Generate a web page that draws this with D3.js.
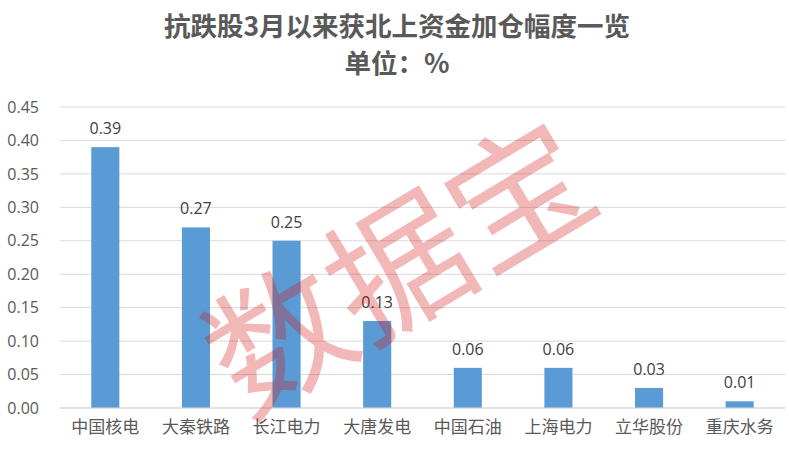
<!DOCTYPE html>
<html><head><meta charset="utf-8">
<script src="https://cdn.jsdelivr.net/npm/d3@7/dist/d3.min.js"></script>
<style>body{margin:0;background:#fff}svg{display:block}</style>
</head><body><svg id="c" width="789" height="450"></svg>
<script>
const categories = ["中国核电","大秦铁路","长江电力","大唐发电","中国石油","上海电力","立华股份","重庆水务"];
const values = [0.39,0.27,0.25,0.13,0.06,0.06,0.03,0.01];
const yTicks = [0,0.05,0.10,0.15,0.20,0.25,0.30,0.35,0.40,0.45];
const titleLines = ["抗跌股3月以来获北上资金加仓幅度一览","单位：%"];

const svg = d3.select("#c");
const font = "'Noto Sans CJK SC','Noto Sans',sans-serif";
const numFont = "'Open Sans','Noto Sans',sans-serif";
const m = {l:60, r:4, t:107, b:42};
const W = 789, H = 450;
const x = d3.scaleBand().domain(categories).range([m.l, W - m.r]).paddingInner(0.69).paddingOuter(0.345);
const y = d3.scaleLinear().domain([0,0.45]).range([H - m.b, m.t]);

// gridlines
svg.append("g").selectAll("line").data(yTicks).join("line")
  .attr("x1", m.l).attr("x2", W - m.r)
  .attr("y1", d=>y(d)).attr("y2", d=>y(d))
  .attr("stroke", "#d9d9d9").attr("stroke-width", 1);

// y axis labels
const yAxis = d3.axisLeft(y).tickValues(yTicks).tickFormat(d3.format(".2f")).tickSize(0).tickPadding(0);
const ya = svg.append("g").attr("transform", `translate(${39},0)`).call(yAxis);
ya.select(".domain").remove();
ya.selectAll("text").attr("fill","#595959").style("font-family",numFont).style("font-size","16px");

// bars
svg.append("g").selectAll("rect").data(values).join("rect")
  .attr("x", (d,i)=>x(categories[i])).attr("width", x.bandwidth())
  .attr("y", d=>y(d)).attr("height", d=>y(0)-y(d))
  .attr("fill", "#5b9bd5");

// data labels
svg.append("g").selectAll("text").data(values).join("text")
  .attr("x", (d,i)=>x(categories[i]) + x.bandwidth()/2)
  .attr("y", d=>y(d) - 13)
  .attr("text-anchor","middle").attr("fill","#404040")
  .style("font-family",numFont).style("font-size","16px")
  .text(d=>d3.format(".2f")(d));

// x axis
svg.append("line").attr("x1", m.l).attr("x2", W - m.r).attr("y1", y(0)).attr("y2", y(0)).attr("stroke","#d9d9d9");
const xAxis = d3.axisBottom(x).tickSize(0).tickPadding(0);
const xa = svg.append("g").attr("transform", `translate(0,${y(0)+13})`).call(xAxis);
xa.select(".domain").remove();
xa.selectAll("text").attr("fill","#595959").style("font-family",font).style("font-size","17px");

// title
svg.append("g").selectAll("text").data(titleLines).join("text")
  .attr("x", 397).attr("y", (d,i)=> i===0 ? 36 : 73)
  .attr("text-anchor","middle").attr("fill","#595959")
  .style("font-family",font).style("font-size","26.5px").style("font-weight","bold")
  .text(d=>d);

// watermark
svg.append("text")
  .attr("transform","translate(394,259) rotate(-31)")
  .attr("text-anchor","middle").attr("dominant-baseline","central")
  .attr("fill","rgb(212,18,18)").attr("fill-opacity",0.3)
  .style("font-family",font).style("font-size","140px").style("font-weight","normal")
  .text("数据宝");
</script></body></html>
